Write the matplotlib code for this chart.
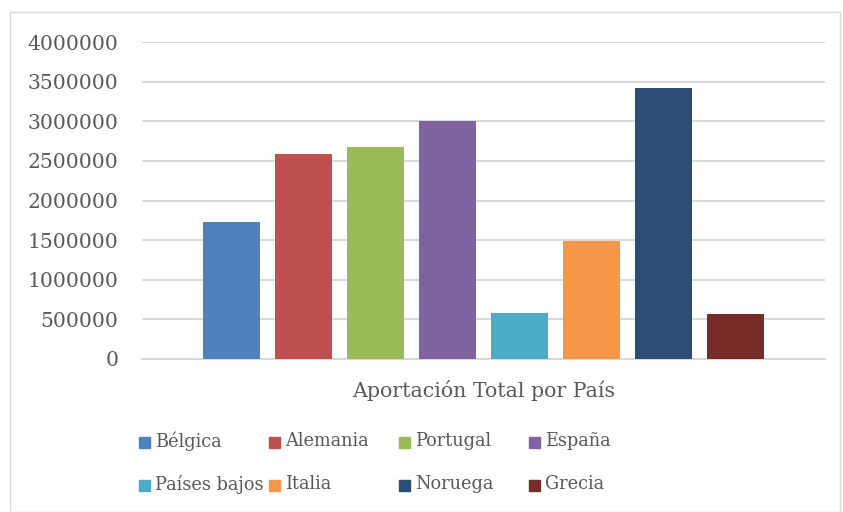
import matplotlib.pyplot as plt
import matplotlib.patches as mpatches
import numpy as np

paises = ["Bélgica", "Alemania", "Portugal", "España",
          "Países bajos", "Italia", "Noruega", "Grecia"]
aportacion = [1730000, 2585000, 2675000, 3000000,
              580000, 1490000, 3420000, 570000]
colores = ["#4F81BD", "#C0504D", "#9BBB59", "#8064A2",
           "#4BACC6", "#F79646", "#2C4D75", "#772C2A"]
categoria = "Aportación Total por País"

plt.rcParams["font.family"] = ["DejaVu Serif"]
TXT = "#595959"
W, H = 843, 512

fig = plt.figure(figsize=(W / 100, H / 100), dpi=100)
fig.patch.set_facecolor("white")

# chart border like Excel
fig.patches.append(mpatches.Rectangle((10 / W, 0), (840 - 10) / W, (H - 12) / H,
                                      transform=fig.transFigure, fill=False,
                                      ec="#d9d9d9", lw=1))

ax = fig.add_axes([142 / W, (H - 359) / H, 683 / W, 317 / H])

n = len(paises)
step = 72 / 683
width = 57 / 683
offsets = (np.arange(n) - (n - 1) / 2) * step
for off, val, col in zip(offsets, aportacion, colores):
    ax.bar(off, val, width=width, color=col, zorder=3)

ax.set_xlim(-0.5, 0.5)
ax.set_ylim(0, 4000000)
ticks = np.arange(0, 4000001, 500000)
ax.set_yticks(ticks)
ax.set_yticklabels([f"{int(v)}" for v in ticks], fontsize=14.6, color=TXT)
ax.tick_params(axis="y", length=0, pad=17)
ax.set_xticks([0])
ax.set_xticklabels([categoria], fontsize=14.8, color=TXT)
ax.tick_params(axis="x", length=0, pad=15)
ax.grid(axis="y", color="#d9d9d9", linewidth=1.5, zorder=0)
ax.set_axisbelow(True)
for s in ["top", "right", "left"]:
    ax.spines[s].set_visible(False)
ax.spines["bottom"].set_color("#d9d9d9")
ax.spines["bottom"].set_linewidth(1.5)

# legend, two rows of four fixed-width columns
for i, (lab, col) in enumerate(zip(paises, colores)):
    r, c = divmod(i, 4)
    x = 139 + c * 130
    y = 442 + r * 43
    fig.patches.append(mpatches.Rectangle((x / W, 1 - (y + 5.5) / H), 11 / W, 11 / H,
                                          transform=fig.transFigure, color=col))
    fig.text((x + 16) / W, 1 - (y - 1) / H, lab, fontsize=12.8, color=TXT,
             ha="left", va="center")

fig.savefig("out.png", dpi=100)
